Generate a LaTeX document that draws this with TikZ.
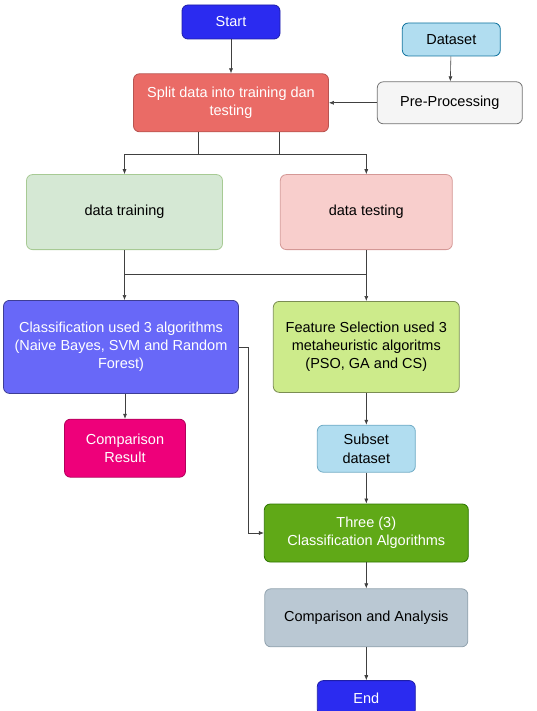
\documentclass[tikz,border=0pt]{standalone}
\usepackage{fontspec}
\setmainfont{Liberation Sans}
\usepackage{tikz}
\usetikzlibrary{arrows.meta,positioning}
\definecolor{startblue}{RGB}{43,43,240}
\definecolor{splitred}{HTML}{EA6B66}
\definecolor{splitline}{HTML}{B85450}
\definecolor{prepgray}{HTML}{F5F5F5}
\definecolor{dataset}{HTML}{B1DDF0}
\definecolor{datasetline}{HTML}{10739E}
\definecolor{trainfill}{HTML}{D5E8D4}
\definecolor{trainline}{HTML}{82B366}
\definecolor{testfill}{HTML}{F8CECC}
\definecolor{clffill}{RGB}{104,104,248}
\definecolor{fsfill}{HTML}{CDEB8B}
\definecolor{cmpfill}{RGB}{238,0,122}
\definecolor{threefill}{HTML}{60A917}
\definecolor{threeline}{HTML}{2D7600}
\definecolor{anafill}{HTML}{BAC8D3}
\definecolor{analine}{HTML}{23445D}
\tikzset{box/.style={draw, rounded corners=6pt, align=center, inner sep=2pt, line width=0.8pt}, bbox/.style={box, draw=startblue!70!black, fill=startblue, text=white}, edge/.style={-{Latex[length=5pt,width=4pt]}, draw=black!75, line width=0.6pt}}

\begin{document}
\begin{tikzpicture}[x=1pt, y=-1pt, every node/.style={font=\fontsize{14.5}{18.3}\selectfont}]
\useasboundingbox (0,0) rectangle (537,711);
\node[bbox, minimum width=98pt, minimum height=34pt] (start) at (231,22) {Start};
\node[box, draw=splitline, fill=splitred, text=white, minimum width=195pt, minimum height=58pt, below=34pt of start] (split) {Split data into training dan\\testing};
\node[box, draw=black!55, fill=prepgray, minimum width=145pt, minimum height=42pt, right=48pt of split] (prep) {Pre-Processing};
\node[box, draw=datasetline, fill=dataset, minimum width=98pt, minimum height=33pt, above=25pt of prep, xshift=1.5pt] (data) {Dataset};
\node[box, draw=trainline!70, fill=trainfill, minimum width=196pt, minimum height=75pt, below=42pt of split, xshift=-106.5pt] (train) {data training};
\node[box, draw=splitline!60, fill=testfill, minimum width=172pt, minimum height=75pt, right=57pt of train] (test) {data testing};
\node[box, draw=clffill!60!black, fill=clffill, text=white, minimum width=235pt, minimum height=93pt, below=50pt of train, xshift=-3.5pt] (clf) {Classification used 3 algorithms\\(Naive Bayes, SVM and Random\\Forest)};
\node[box, draw=fsfill!60!black, fill=fsfill, minimum width=186pt, minimum height=91pt, below=51pt of test] (fs) {Feature Selection used 3\\metaheuristic algoritms\\(PSO, GA and CS)};
\node[box, draw=cmpfill!75!black, fill=cmpfill, text=white, minimum width=121pt, minimum height=58pt, below=25pt of clf, xshift=4pt] (cmp) {Comparison\\Result};
\node[box, draw=datasetline!60, fill=dataset, minimum width=98pt, minimum height=47pt, below=32pt of fs] (subset) {Subset\\dataset};
\node[box, draw=threeline, fill=threefill, text=white, minimum width=204pt, minimum height=58pt, below=31pt of subset] (three) {Three (3)\\Classification Algorithms};
\node[box, draw=analine!50, fill=anafill, minimum width=203pt, minimum height=58pt, below=26pt of three] (ana) {Comparison and Analysis};
\node[bbox, minimum width=98pt, minimum height=35pt, below=33pt of ana] (fin) {End};
\coordinate (join) at (train.south |- 0,274);
\coordinate (turn) at (248,0);
\draw[edge] (start) -- (split);
\draw[edge] (data) -- (prep);
\draw[edge] (prep) -- (split);
\draw[edge] ([xshift=-33pt]split.south) |- ([yshift=-22pt]split.south) -| (train);
\draw[edge] ([xshift=48pt]split.south) |- ([yshift=-22pt]split.south) -| (test);
\draw[edge] (train) -- (join) -| (fs);
\draw[edge] (test) |- (join) -- (join |- clf.north);
\draw[edge] (clf.east) -| (turn |- three) -- (three);
\draw[edge] (cmp.north |- clf.south) -- (cmp);
\draw[edge] (fs) -- (subset);
\draw[edge] (subset) -- (three);
\draw[edge] (three) -- (ana);
\draw[edge] (ana) -- (fin);
\end{tikzpicture}
\end{document}
